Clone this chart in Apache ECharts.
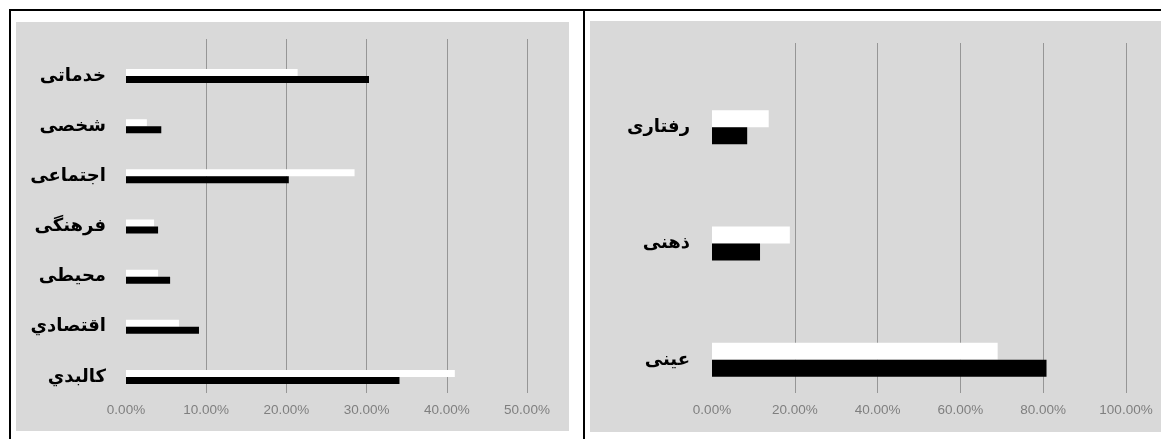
<!DOCTYPE html>
<html>
<head>
<meta charset="utf-8">
<script src="https://cdn.jsdelivr.net/npm/echarts@6/dist/echarts.min.js"></script>
<style>
html,body{margin:0;padding:0;background:#fff;}
#chart{width:1161px;height:439px;}
</style>
</head>
<body>
<div id="chart"></div>
<script>
// Left panel (bottom to top)
const leftCategories = ['کالبدي', 'اقتصادي', 'محیطی', 'فرهنگی', 'اجتماعی', 'شخصی', 'خدماتی'];
const leftWhite = [41.0, 6.6, 4.0, 3.5, 28.5, 2.6, 21.4];
const leftBlack = [34.1, 9.1, 5.5, 4.0, 20.3, 4.4, 30.3];
const leftTicks = { min: 0, max: 50, interval: 10 };

// Right panel (bottom to top)
const rightCategories = ['عینی', 'ذهنی', 'رفتاری'];
const rightWhite = [69.0, 18.8, 13.7];
const rightBlack = [80.8, 11.6, 8.5];
const rightTicks = { min: 0, max: 100, interval: 20 };

const seriesNames = ['سری ۱', 'سری ۲'];

const chart = echarts.init(document.getElementById('chart'), null, { renderer: 'canvas' });

const tickLabel = {
  color: '#7f7f7f',
  fontFamily: 'Liberation Sans',
  fontSize: 13.5,
  margin: 10,
  formatter: v => v.toFixed(2) + '%'
};
const gridLine = { show: true, showMinLine: false, lineStyle: { color: '#969696', width: 1 } };
const catLabel = { color: '#000', fontFamily: 'DejaVu Sans', fontWeight: 'bold', fontSize: 18 };

const option = {
  animation: false,
  backgroundColor: '#ffffff',
  graphic: [
    { type: 'rect', z: -100, shape: { x: 16, y: 22, width: 553, height: 409 }, style: { fill: '#d9d9d9' } },
    { type: 'rect', z: -100, shape: { x: 590, y: 21, width: 571, height: 411 }, style: { fill: '#d9d9d9' } },
    { type: 'rect', z: -90, shape: { x: 9, y: 9, width: 1152, height: 2 }, style: { fill: '#000' } },
    { type: 'rect', z: -90, shape: { x: 9, y: 9, width: 2, height: 430 }, style: { fill: '#000' } },
    { type: 'rect', z: -90, shape: { x: 583, y: 9, width: 2, height: 430 }, style: { fill: '#000' } }
  ],
  grid: [
    { left: 126, right: 634, top: 39, bottom: 46 },
    { left: 126, right: 634, top: 51, bottom: 37 },
    { left: 712, right: 35, top: 43, bottom: 46 },
    { left: 712, right: 35, top: 69, bottom: 21 }
  ],
  xAxis: [
    { gridIndex: 0, type: 'value', min: leftTicks.min, max: leftTicks.max, interval: leftTicks.interval,
      axisLine: { show: false }, axisTick: { show: false }, axisLabel: tickLabel, splitLine: gridLine },
    { gridIndex: 1, type: 'value', min: leftTicks.min, max: leftTicks.max, interval: leftTicks.interval, show: false },
    { gridIndex: 2, type: 'value', min: rightTicks.min, max: rightTicks.max, interval: rightTicks.interval,
      axisLine: { show: false }, axisTick: { show: false }, axisLabel: tickLabel, splitLine: gridLine },
    { gridIndex: 3, type: 'value', min: rightTicks.min, max: rightTicks.max, interval: rightTicks.interval, show: false }
  ],
  yAxis: [
    { gridIndex: 0, type: 'category', data: leftCategories, show: false },
    { gridIndex: 1, type: 'category', data: leftCategories,
      axisLine: { show: false }, axisTick: { show: false }, splitLine: { show: false },
      axisLabel: Object.assign({ margin: 20 }, catLabel) },
    { gridIndex: 2, type: 'category', data: rightCategories, show: false },
    { gridIndex: 3, type: 'category', data: rightCategories,
      axisLine: { show: false }, axisTick: { show: false }, splitLine: { show: false },
      axisLabel: Object.assign({ margin: 22 }, catLabel) }
  ],
  series: [
    { name: seriesNames[0], type: 'bar', xAxisIndex: 1, yAxisIndex: 1, data: leftWhite,
      barWidth: 7, barGap: '0%', itemStyle: { color: '#ffffff' } },
    { name: seriesNames[1], type: 'bar', xAxisIndex: 1, yAxisIndex: 1, data: leftBlack,
      barWidth: 7, barGap: '0%', itemStyle: { color: '#000000' } },
    { name: seriesNames[0], type: 'bar', xAxisIndex: 3, yAxisIndex: 3, data: rightWhite,
      barWidth: 17, barGap: '0%', itemStyle: { color: '#ffffff' } },
    { name: seriesNames[1], type: 'bar', xAxisIndex: 3, yAxisIndex: 3, data: rightBlack,
      barWidth: 17, barGap: '0%', itemStyle: { color: '#000000' } }
  ]
};
chart.setOption(option);
</script>
</body>
</html>
